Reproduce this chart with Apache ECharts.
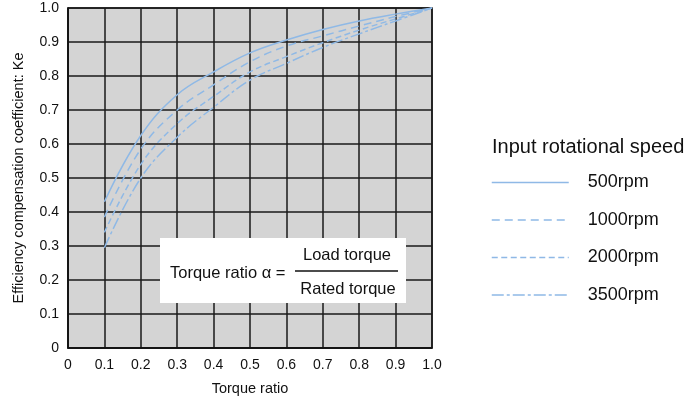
<!DOCTYPE html>
<html>
<head>
<meta charset="utf-8">
<script src="https://cdn.jsdelivr.net/npm/echarts@6/dist/echarts.min.js"></script>
<style>
html,body{margin:0;padding:0;background:#fff;}
#c{width:691px;height:399px;}
</style>
</head>
<body>
<div id="c"></div>
<script>
const torqueRatio = [0.1,0.2,0.3,0.4,0.5,0.6,0.7,0.8,0.9,1.0];
const ke500  = [0.43,0.625,0.745,0.812,0.868,0.906,0.937,0.962,0.982,1.0];
const ke1000 = [0.385,0.585,0.70,0.774,0.842,0.888,0.918,0.947,0.975,1.0];
const ke2000 = [0.34,0.54,0.66,0.74,0.812,0.857,0.898,0.935,0.968,1.0];
const ke3500 = [0.295,0.50,0.62,0.708,0.788,0.837,0.884,0.924,0.962,1.0];
const seriesNames = ['500rpm','1000rpm','2000rpm','3500rpm'];
const tickLabels = ['0','0.1','0.2','0.3','0.4','0.5','0.6','0.7','0.8','0.9','1.0'];
const lineTypes = ['solid',[8,5],[6,3.5],[12,3,3,3]];
const allData = [ke500, ke1000, ke2000, ke3500];

const FONT = 'Liberation Sans';
const chart = echarts.init(document.getElementById('c'));
const lineColor = '#8fb9e6';

const series = allData.map((arr, i) => ({
  name: seriesNames[i],
  type: 'line',
  smooth: 0.4,
  showSymbol: false,
  symbol: 'none',
  data: torqueRatio.map((x, j) => [x, arr[j]]),
  lineStyle: { color: lineColor, width: 1.5, type: lineTypes[i] },
  itemStyle: { color: lineColor },
  z: 3
}));

const fmt = v => tickLabels[Math.round(v * 10)];

chart.setOption({
  animation: false,
  backgroundColor: '#fff',
  textStyle: { fontFamily: FONT },
  grid: {
    left: 68, top: 8, width: 364, height: 340,
    containLabel: false, outerBoundsMode: 'none',
    show: true, backgroundColor: '#d4d4d4', borderColor: '#111', borderWidth: 1.5
  },
  title: {
    text: 'Input rotational speed',
    left: 492, top: 137, padding: 0,
    textStyle: { fontFamily: FONT, fontSize: 20, fontWeight: 'normal', color: '#111' }
  },
  legend: {
    orient: 'vertical',
    left: 491, top: 173.5, padding: 0,
    itemWidth: 77, itemHeight: 18, itemGap: 19.5,
    data: seriesNames,
    itemStyle: { opacity: 0 },
    lineStyle: { width: 1.5, color: lineColor },
    textStyle: { fontFamily: FONT, fontSize: 18, lineHeight: 18, color: '#111', padding: [0,0,0,14] }
  },
  xAxis: {
    type: 'value', min: 0, max: 1, interval: 0.1,
    name: 'Torque ratio', nameLocation: 'middle', nameGap: 33,
    nameTextStyle: { fontFamily: FONT, fontSize: 14.5, color: '#111' },
    axisLine: { show: true, lineStyle: { color: '#111', width: 1.5 } },
    axisTick: { show: false },
    axisLabel: { fontFamily: FONT, fontSize: 14, color: '#111', margin: 10, formatter: fmt },
    splitLine: { show: true, lineStyle: { color: '#1a1a1a', width: 1.5 } }
  },
  yAxis: {
    type: 'value', min: 0, max: 1, interval: 0.1,
    name: 'Efficiency compensation coefficient: Ke', nameLocation: 'middle', nameGap: 42,
    nameTextStyle: { fontFamily: FONT, fontSize: 14.5, color: '#111' },
    axisLine: { show: true, lineStyle: { color: '#111', width: 1.5 } },
    axisTick: { show: false },
    axisLabel: { fontFamily: FONT, fontSize: 14, color: '#111', margin: 9, formatter: fmt },
    splitLine: { show: true, lineStyle: { color: '#1a1a1a', width: 1.5 } }
  },
  graphic: [
    { type: 'rect', z: 10, shape: { x: 160, y: 238, width: 246, height: 65 }, style: { fill: '#fff' } },
    { type: 'text', z: 11, style: { x: 170, y: 273, text: 'Torque ratio α =', font: '16.5px "Liberation Sans"', fill: '#111', textVerticalAlign: 'middle' } },
    { type: 'text', z: 11, style: { x: 347, y: 255, text: 'Load torque', font: '16.5px "Liberation Sans"', fill: '#111', textAlign: 'center', textVerticalAlign: 'middle' } },
    { type: 'line', z: 11, shape: { x1: 295, y1: 271, x2: 398, y2: 271 }, style: { stroke: '#111', lineWidth: 1.5 } },
    { type: 'text', z: 11, style: { x: 348, y: 289, text: 'Rated torque', font: '16.5px "Liberation Sans"', fill: '#111', textAlign: 'center', textVerticalAlign: 'middle' } }
  ],
  series: series
});
</script>
</body>
</html>
